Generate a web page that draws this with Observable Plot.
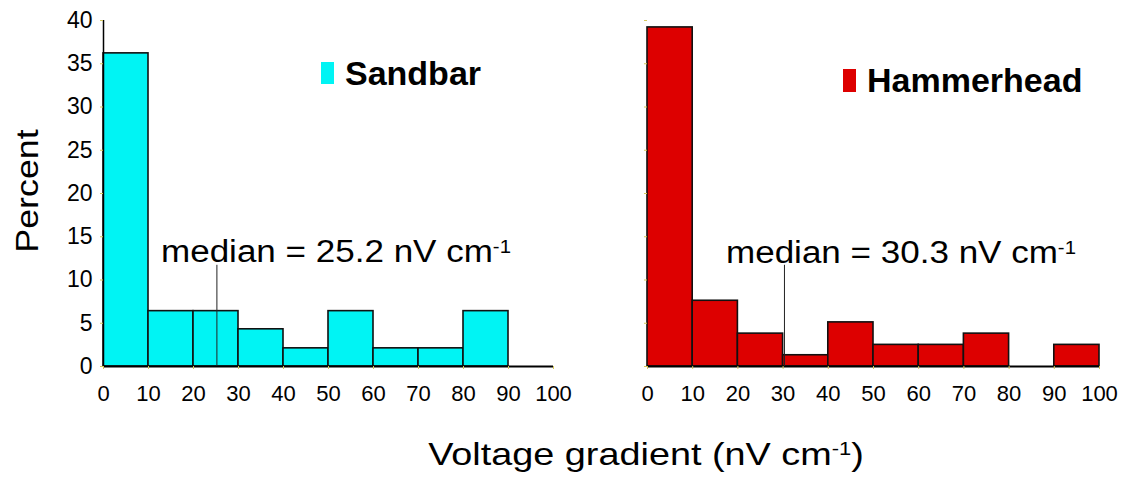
<!DOCTYPE html>
<html>
<head>
<meta charset="utf-8">
<script src="https://cdn.jsdelivr.net/npm/d3@7"></script>
<script src="https://cdn.jsdelivr.net/npm/@observablehq/plot@0.6"></script>
<style>
  html, body { margin: 0; padding: 0; background: #fff; }
  #chart { position: relative; width: 1130px; height: 485px; background: #fff; overflow: hidden;
           font-family: "Liberation Sans", Arial, sans-serif; }
  #chart > .panel { position: absolute; top: 0; }
  #overlay { position: absolute; left: 0; top: 0; pointer-events: none; }
</style>
</head>
<body>
<div id="chart"></div>
<script>
// ---- data ----
const binStarts = [0, 10, 20, 30, 40, 50, 60, 70, 80, 90];
const binEnds   = [10, 20, 30, 40, 50, 60, 70, 80, 90, 100];
const sandbarPercent    = [36.2, 6.4, 6.4, 4.3, 2.1, 6.4, 2.1, 2.1, 6.4, 0];
const hammerheadPercent = [39.2, 7.6, 3.8, 1.3, 5.1, 2.5, 2.5, 3.8, 0, 2.5];
const species = ["Sandbar", "Hammerhead"];
const speciesColors = ["#00f4f4", "#dd0000"];
const medianValues = [25.2, 30.3];
const medianLabels = ["median = 25.2 nV cm", "median = 30.3 nV cm"];
const medianLineTop = [11.7, 11.7];
const xTicks = [0, 10, 20, 30, 40, 50, 60, 70, 80, 90, 100];
const yTicks = [0, 5, 10, 15, 20, 25, 30, 35, 40];
const yLabel = "Percent";
const xLabel = "Voltage gradient (nV cm";

const FONT = '"Liberation Sans", Arial, sans-serif';
const TICK_COLOR = "#d6c85a";

function panel(values, color, median, medTop, showYLabels, marginLeft, marginRight) {
  const data = binStarts.map((x1, i) => ({x1, x2: binEnds[i], y: values[i]})).filter(d => d.y > 0);
  return Plot.plot({
    width: 570,
    height: 410,
    marginLeft,
    marginRight,
    marginTop: 20,
    marginBottom: 44,
    style: {fontFamily: FONT, fontSize: "22px", color: "#000", background: "transparent", overflow: "visible"},
    x: {domain: [0, 100]},
    y: {domain: [0, 40]},
    marks: [
      Plot.rectY(data, {x1: "x1", x2: "x2", y: "y", fill: color, stroke: "#111", strokeWidth: 1.6}),
      Plot.ruleY([0], {x1: 0, x2: 100, stroke: "#000", strokeWidth: 2}),
      showYLabels ? Plot.ruleX([0], {y1: 0, y2: 40, stroke: "#000", strokeWidth: 1.5}) : null,
      Plot.ruleX([median], {y1: 0, y2: medTop, stroke: "#222", strokeWidth: 1}),
      Plot.axisX({ticks: xTicks, tickSize: 3, stroke: TICK_COLOR, fill: "#000", tickPadding: 16, label: null, fontSize: 22}),
      Plot.axisY({ticks: yTicks, tickSize: 3, stroke: TICK_COLOR, fill: "#000", tickPadding: 8, label: null, fontSize: 23,
                  tickFormat: showYLabels ? (d => String(d)) : (() => "")})
    ]
  });
}

const chart = document.getElementById("chart");
const left = panel(sandbarPercent, speciesColors[0], medianValues[0], medianLineTop[0], true, 103, 17);
left.classList.add("panel");
left.style.left = "0px";
chart.appendChild(left);

const right = panel(hammerheadPercent, speciesColors[1], medianValues[1], medianLineTop[1], false, 87, 31);
right.classList.add("panel");
right.style.left = "560px";
chart.appendChild(right);

// ---- text overlay (labels, legend) ----
const NS = "http://www.w3.org/2000/svg";
const svg = document.createElementNS(NS, "svg");
svg.setAttribute("id", "overlay");
svg.setAttribute("width", 1130);
svg.setAttribute("height", 485);
svg.setAttribute("font-family", FONT);
chart.appendChild(svg);

function addText(x, y, str, opts = {}) {
  const t = document.createElementNS(NS, "text");
  t.setAttribute("x", 0);
  t.setAttribute("y", 0);
  const rot = opts.rotate ? ` rotate(${opts.rotate})` : "";
  t.setAttribute("transform", `translate(${x},${y})${rot} scale(${opts.sx || 1},1)`);
  t.setAttribute("font-size", opts.size || 30);
  if (opts.weight) t.setAttribute("font-weight", opts.weight);
  if (opts.anchor) t.setAttribute("text-anchor", opts.anchor);
  t.setAttribute("fill", "#000");
  t.appendChild(document.createTextNode(str));
  if (opts.sup) {
    const s = document.createElementNS(NS, "tspan");
    s.setAttribute("font-size", opts.supSize || 18);
    s.setAttribute("dy", -(opts.supShift || 6));
    s.textContent = opts.sup;
    t.appendChild(s);
    if (opts.after) {
      const a = document.createElementNS(NS, "tspan");
      a.setAttribute("dy", opts.supShift || 6);
      a.textContent = opts.after;
      t.appendChild(a);
    }
  }
  svg.appendChild(t);
  return t;
}
function addRect(x, y, w, h, fill) {
  const r = document.createElementNS(NS, "rect");
  r.setAttribute("x", x); r.setAttribute("y", y);
  r.setAttribute("width", w); r.setAttribute("height", h);
  r.setAttribute("fill", fill);
  svg.appendChild(r);
}

// median annotations
addText(161, 261.5, medianLabels[0], {size: 31, sx: 1.13, sup: "-1", supSize: 18, supShift: 9});
addText(726, 263, medianLabels[1], {size: 31, sx: 1.13, sup: "-1", supSize: 18, supShift: 9});

// legend entries
addRect(321, 62, 13, 22, speciesColors[0]);
addText(345, 85, species[0], {size: 34, weight: "bold"});
addRect(843, 69, 13, 23, speciesColors[1]);
addText(867, 91.5, species[1], {size: 34, weight: "bold"});

// axis titles
addText(38, 191, yLabel, {size: 32, sx: 1.12, anchor: "middle", rotate: -90});
addText(646, 465, xLabel, {size: 31, sx: 1.22, anchor: "middle", sup: "-1", supSize: 18, supShift: 10, after: ")"});
</script>
</body>
</html>
